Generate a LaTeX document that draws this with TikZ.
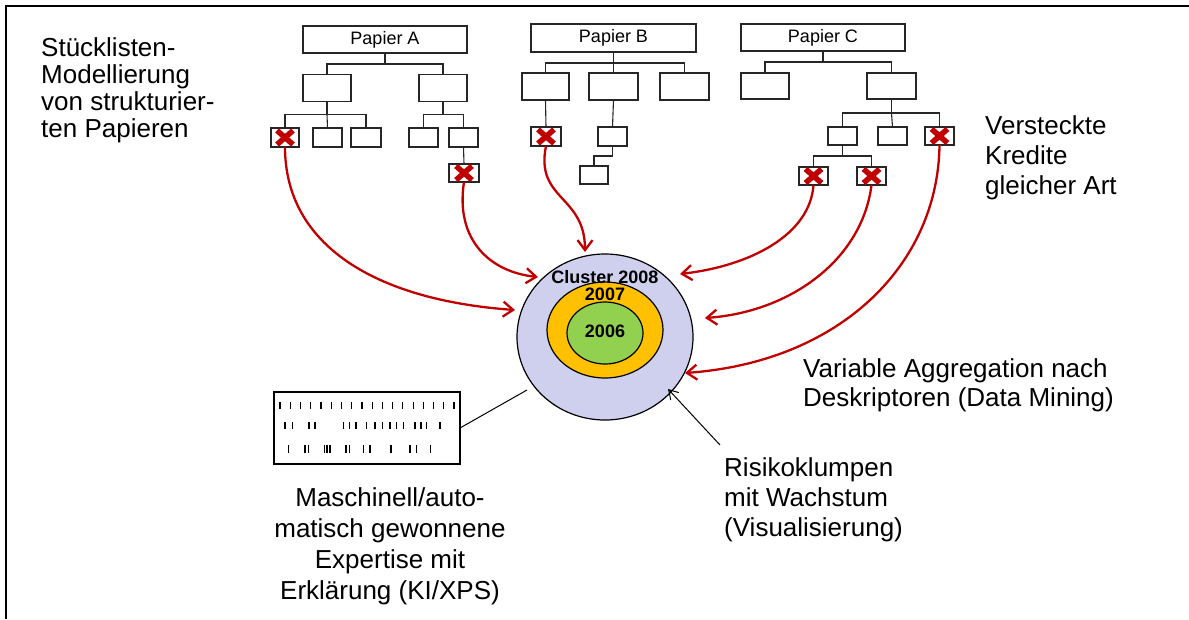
\documentclass[tikz,border=0pt]{standalone}
\usepackage{fontspec}
\setmainfont{Liberation Sans}
\usetikzlibrary{arrows.meta,shapes.geometric}
\definecolor{redx}{HTML}{C00000}
\definecolor{lavender}{HTML}{CFCFEE}
\definecolor{amber}{HTML}{FFC000}
\definecolor{leafgreen}{HTML}{92D050}
\begin{document}
\begin{tikzpicture}[x=1pt,y=-1pt,
  tbox/.style={draw=black!85, line width=1.3pt, inner sep=0pt, outer sep=0pt},
  paper/.style={tbox, minimum width=164pt, minimum height=27pt, font=\fontsize{18}{21}\selectfont},
  midbox/.style={tbox, minimum width=48pt, minimum height=27pt},
  leafbox/.style={tbox, minimum width=29pt, minimum height=19pt},
  wire/.style={draw=black!85, line width=1.1pt},
  xmark/.style={draw=redx, line width=5.5pt},
  feed/.style={draw=redx, line width=2.3pt, -{Straight Barb[length=10pt,width=15pt]}},
  pointer/.style={draw=black, line width=1pt, -{Straight Barb[length=9pt,width=11pt]}},
  label/.style={inner sep=0pt, font=\fontsize{26}{30}\selectfont},
  year/.style={inner sep=0pt, font=\fontsize{18}{21}\selectfont\bfseries},
  bar/.style={draw=black, line width=1.2pt}
]
\useasboundingbox (0,0) rectangle (1189,619);

% frame
\draw[line width=2pt] (6,619) -- (6,6) -- (1189,6);

% ---------- Papier A ----------
\node[paper] (pa) at (385,39.5) {Papier A};
\node[midbox] (a1) at (327,88) {};
\node[midbox] (a2) at (443,88) {};
\node[leafbox, minimum width=28pt] (a11) at (285,137.5) {};
\node[leafbox] (a12) at (327.5,137.5) {};
\node[leafbox, minimum width=30pt] (a13) at (366,137.5) {};
\node[leafbox] (a21) at (423.5,137.5) {};
\node[leafbox] (a22) at (463.5,137.5) {};
\node[leafbox, minimum width=30pt, minimum height=18pt] (a221) at (464,173) {};
\draw[wire] (pa.south) -- ++(0,11) coordinate (pabar);
\draw[wire] (a1.north) |- (pabar) -| (a2.north);
\draw[wire] (a1.south) -- ++(0,13) coordinate (a1bar);
\draw[wire] (a11.north) |- (a1bar) -| (a13.north);
\draw[wire] (a1bar) -- (a12.north);
\draw[wire] (a2.south) -- ++(0,13) coordinate (a2bar);
\draw[wire] (a21.north) |- (a2bar) -| (a22.north);
\draw[wire] (a22.south) -- (a221.north);

% ---------- Papier B ----------
\node[paper, minimum width=165pt, minimum height=28pt] (pb) at (613.5,38) {Papier B};
\node[midbox, minimum width=47pt] (b1) at (545.5,86.5) {};
\node[midbox, minimum width=49pt] (b2) at (613.5,86.5) {};
\node[midbox, minimum width=49pt] (b3) at (684.5,86.5) {};
\node[leafbox, minimum width=30pt] (b11) at (546,136.5) {};
\node[leafbox] (b21) at (612.5,136.5) {};
\node[leafbox, minimum width=28pt, minimum height=18pt] (b211) at (594,175) {};
\draw[wire] (pb.south) -- ++(0,11) coordinate (pbbar);
\draw[wire] (b1.north) |- (pbbar) -| (b3.north);
\draw[wire] (pbbar) -- (b2.north);
\draw[wire] (b1.south) -- (b11.north);
\draw[wire] (b2.south) -- (b21.north);
\draw[wire] (b21.south) -- ++(0,10) -| (b211.north);

% ---------- Papier C ----------
\node[paper] (pc) at (823,37.5) {Papier C};
\node[midbox, minimum height=26pt] (c1) at (765,86) {};
\node[midbox, minimum width=49pt, minimum height=26pt] (c2) at (891.5,86) {};
\node[leafbox, minimum height=18pt] (c21) at (842.5,136) {};
\node[leafbox, minimum height=18pt] (c22) at (892.5,136) {};
\node[leafbox, minimum height=18pt] (c23) at (939.5,136) {};
\node[leafbox, minimum height=18pt] (c211) at (813.5,176) {};
\node[leafbox, minimum height=18pt] (c212) at (871.5,176) {};
\draw[wire] (pc.south) -- ++(0,11) coordinate (pcbar);
\draw[wire] (c1.north) |- (pcbar) -| (c2.north);
\draw[wire] (c2.south) -- ++(0,14) coordinate (c2bar);
\draw[wire] (c21.north) |- (c2bar) -| (c23.north);
\draw[wire] (c2bar) -- (c22.north);
\draw[wire] (c21.south) -- ++(0,11) coordinate (c21bar);
\draw[wire] (c211.north) |- (c21bar) -| (c212.north);

% ---------- cluster rings ----------
\node[ellipse, draw=black, line width=1.2pt, fill=lavender, inner sep=0pt,
      minimum width=176pt, minimum height=166pt] (cl) at (605,337) {};
\node[ellipse, draw=black, line width=1.2pt, fill=amber, inner sep=0pt,
      minimum width=116pt, minimum height=96pt] (c7) at (605,330) {};
\node[ellipse, draw=black, line width=1.2pt, fill=leafgreen, inner sep=0pt,
      minimum width=76pt, minimum height=62pt] (c6) at (605,333) {};
\node[year] (t8) at (605,277) {Cluster 2008};
\node[year] (t7) at (605,294) {2007};
\node[year] (t6) at (605,331) {2006};

% arrow targets around the cluster
\coordinate (e1) at (515,310);
\coordinate (e2) at (538,277);
\coordinate (e3) at (585,252);
\coordinate (e4) at (680,274);
\coordinate (e5) at (705,318);
\coordinate (e6) at (685,373);

% hidden credits feeding the cluster
\draw[feed] (a11.south) .. controls (285,245) and (375,300) .. (e1);
\draw[feed] (a221.south) .. controls (455,240) and (490,272) .. (e2);
\draw[feed] (b11.south) .. controls (535,200) and (585,195) .. (e3);
\draw[feed] (c211.south) .. controls (810,235) and (750,266) .. (e4);
\draw[feed] (c212.south) .. controls (862,260) and (790,312) .. (e5);
\draw[feed] (c23.south) .. controls (938,265) and (840,362) .. (e6);

% red crosses on the affected items
\foreach \n in {a11,a221,b11,c211,c212,c23}
  \draw[xmark] (\n.center) +(-8,-7) -- +(8,7) (\n.center) +(-8,7) -- +(8,-7);

% ---------- expertise panel ----------
\node[tbox, line width=1.2pt, draw=black, minimum width=186pt, minimum height=72pt] (xps) at (367,428) {};
\foreach \i in {0,...,17}
  \draw[bar] ({280+\i*10.24},402) -- ++(0,7);
\foreach \x in {285,292.3,309,315,343.3,349.3,356,366.7,375,382.7,390,396.7,403.3,415,421,426.7,440}
  \draw[bar] (\x,422) -- ++(0,7);
\foreach \x in {288.3,305,308.3,324.3,327,330,346,349.3,363.3,370,391,410,416.7,430.7}
  \draw[bar] (\x,445) -- ++(0,8);
\coordinate (xlink) at (527,390);
\draw[line width=1pt] (xps.east) -- (xlink);

% pointer to the growing risk cluster
\coordinate (rk) at (720,445);
\coordinate (rktip) at (668,389);
\draw[pointer] (rk) -- (rktip);

% ---------- labels (anchored at the baseline of their last line) ----------
\node[label, font=\fontsize{26}{26.8}\selectfont, align=left, anchor=base west] (lbom) at (41,137)
  {Stücklisten-\\Modellierung\\von strukturier-\\ten Papieren};
\node[label, align=left, anchor=base west] (lhid) at (985,194)
  {Versteckte\\Kredite\\gleicher Art};
\node[label, font=\fontsize{26}{29}\selectfont, align=left, anchor=base west] (lagg) at (803,406)
  {Variable Aggregation nach\\Deskriptoren (Data Mining)};
\node[label, align=left, anchor=base west] (lrisk) at (724,536)
  {Risikoklumpen\\mit Wachstum\\(Visualisierung)};
\node[label, font=\fontsize{26}{31}\selectfont, align=center, anchor=base] (lxps) at (390,599)
  {Maschinell/auto-\\matisch gewonnene\\Expertise mit\\Erklärung (KI/XPS)};
\end{tikzpicture}
\end{document}
